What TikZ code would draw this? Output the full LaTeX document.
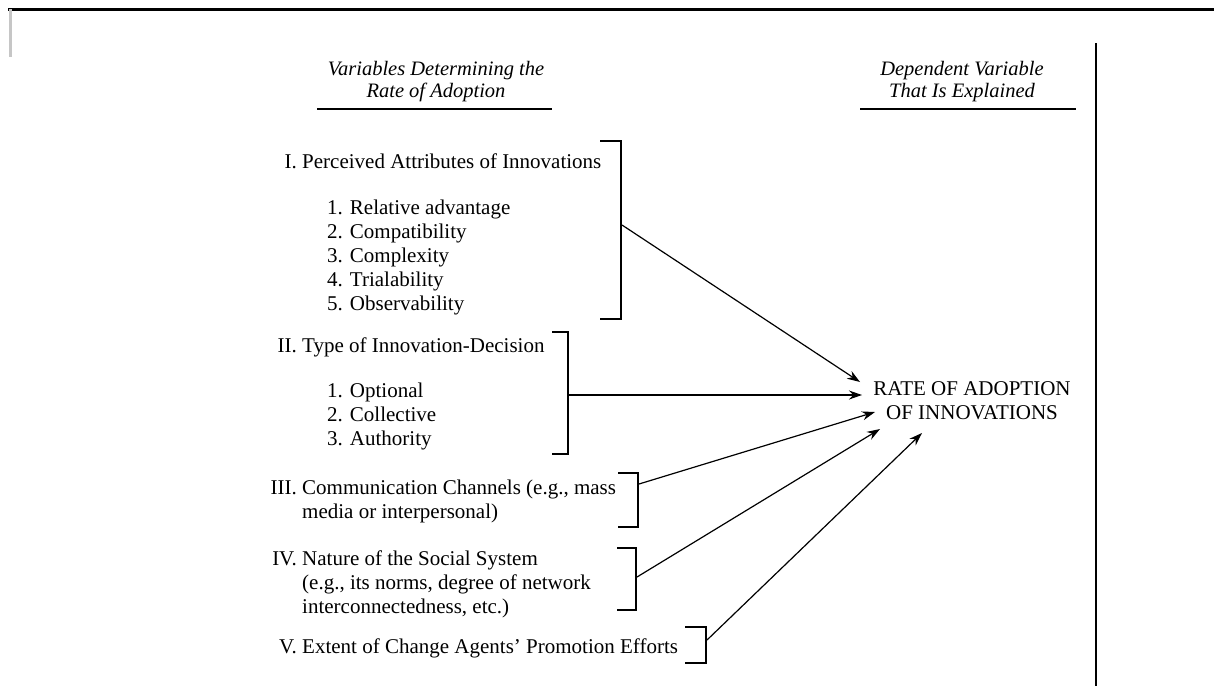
\documentclass[tikz,border=0pt]{standalone}
\usepackage{fontspec}
\setmainfont{Liberation Serif}
\usetikzlibrary{arrows.meta}

\newcommand{\itemfont}{\fontsize{21}{24}\selectfont}
\newcommand{\hdrfont}{\fontsize{20.5}{22}\selectfont\itshape}
\newcommand{\rnum}[1]{\llap{#1.\ }}

% multi-line nodes are placed by the baseline of their last line
\tikzset{
  lbl/.style={anchor=base west, align=left, font=\itemfont, inner sep=0pt},
  hdr/.style={anchor=base, align=center, font=\hdrfont, inner sep=0pt},
  brk/.style={line width=1.4pt},
  rulebar/.style={line width=1.6pt},
  arr/.style={line width=1.2pt, -{Stealth[length=13pt,width=9pt]}},
}

\begin{document}
\begin{tikzpicture}[x=1pt,y=-1pt]
    \useasboundingbox (0,0) rectangle (1214,686);
    % frame of the scanned page
    \draw[line width=3pt] (8,9) -- (1214,9);
    \draw[gray!45,line width=3pt] (10,9) -- (10,57);
    \draw[line width=1.6pt] (1096,43) -- (1096,686);

    % column headings
    \node[hdr] (hleft) at (436,97) {Variables Determining the\\Rate of Adoption};
    \draw[rulebar] (317,109) -- (552,109);
    \node[hdr] (hright) at (962,97) {Dependent Variable\\That Is Explained};
    \draw[rulebar] (860,109) -- (1076,109);

    % independent variables
    \node[lbl] (attr) at (302,168) {\rnum{I}Perceived Attributes of Innovations};
    \node[lbl] (attrlist) at (327,310) {1. Relative advantage\\2. Compatibility\\3. Complexity\\4. Trialability\\5. Observability};
    \node[lbl] (decision) at (302,352) {\rnum{II}Type of Innovation-Decision};
    \node[lbl] (declist) at (327,445) {1. Optional\\2. Collective\\3. Authority};
    \node[lbl] (channels) at (302,518) {\rnum{III}Communication Channels (e.g., mass\\media or interpersonal)};
    \node[lbl] (social) at (302,613) {\rnum{IV}Nature of the Social System\\(e.g., its norms, degree of network\\interconnectedness, etc.)};
    \node[lbl] (agents) at (302,653) {\rnum{V}Extent of Change Agents' Promotion Efforts};

    % dependent variable
    \node[anchor=base,align=center,font=\itemfont,inner sep=0pt] (rate) at (972,419) {RATE OF ADOPTION\\OF INNOVATIONS};

    % brackets
    \draw[brk] (600,141) -- (621,141) -- (621,319) -- (600,319);
    \draw[brk] (552,332) -- (568,332) -- (568,454) -- (552,454);
    \draw[brk] (618,473) -- (638,473) -- (638,527) -- (618,527);
    \draw[brk] (617,548) -- (636,548) -- (636,610) -- (617,610);
    \draw[brk] (685,627) -- (706,627) -- (706,663) -- (685,663);
    \coordinate (b1) at (622,225);
    \coordinate (b2) at (569,395);
    \coordinate (b3) at (639,484);
    \coordinate (b4) at (637,577);
    \coordinate (b5) at (707,640);

    % arrow ends at the dependent variable
    \coordinate (t1) at (860,382);
    \coordinate (t2) at (862,395);
    \coordinate (t3) at (875,412);
    \coordinate (t4) at (880,429);
    \coordinate (t5) at (922,433);

    \foreach \i in {1,...,5}
      \draw[arr] (b\i) -- (t\i);
\end{tikzpicture}
\end{document}
